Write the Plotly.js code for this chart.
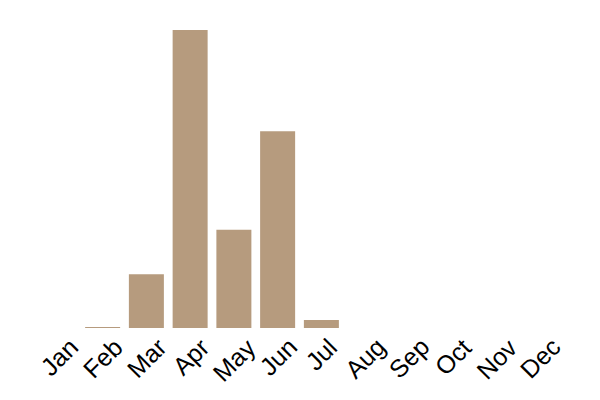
<!DOCTYPE html>
<html><head><meta charset="utf-8">
<script src="https://cdn.plot.ly/plotly-3.0.1.min.js"></script>
<style>body{margin:0}</style></head>
<body><div id="chart" style="width:600px;height:400px"></div>
<script>
const months = ["Jan","Feb","Mar","Apr","May","Jun","Jul","Aug","Sep","Oct","Nov","Dec"];
const values = [0, 0.3, 18, 100, 33, 66, 2.7, 0, 0, 0, 0, 0];
const labels = months.map(m => ({
  x: m, y: 0, xref: "x", yref: "y", text: m, showarrow: false,
  textangle: -45, xanchor: "center", yanchor: "top", yshift: -2,
  font: {family: "Liberation Sans, Arial", size: 25, color: "black"}
}));
Plotly.newPlot("chart", [{
  type: "bar", x: months, y: values,
  marker: {color: "#b69b7e"}, hoverinfo: "none"
}], {
  width: 600, height: 400,
  margin: {l: 37, r: 38, t: 30, b: 72},
  paper_bgcolor: "white", plot_bgcolor: "white",
  bargap: 0.2, showlegend: false,
  annotations: labels,
  xaxis: {range: [-0.5, 11.5], autorange: false, showticklabels: false, showgrid: false, zeroline: false, showline: false, ticks: ""},
  yaxis: {range: [0, 100], visible: false, showgrid: false, zeroline: false}
}, {displayModeBar: false, staticPlot: true});
</script></body></html>
